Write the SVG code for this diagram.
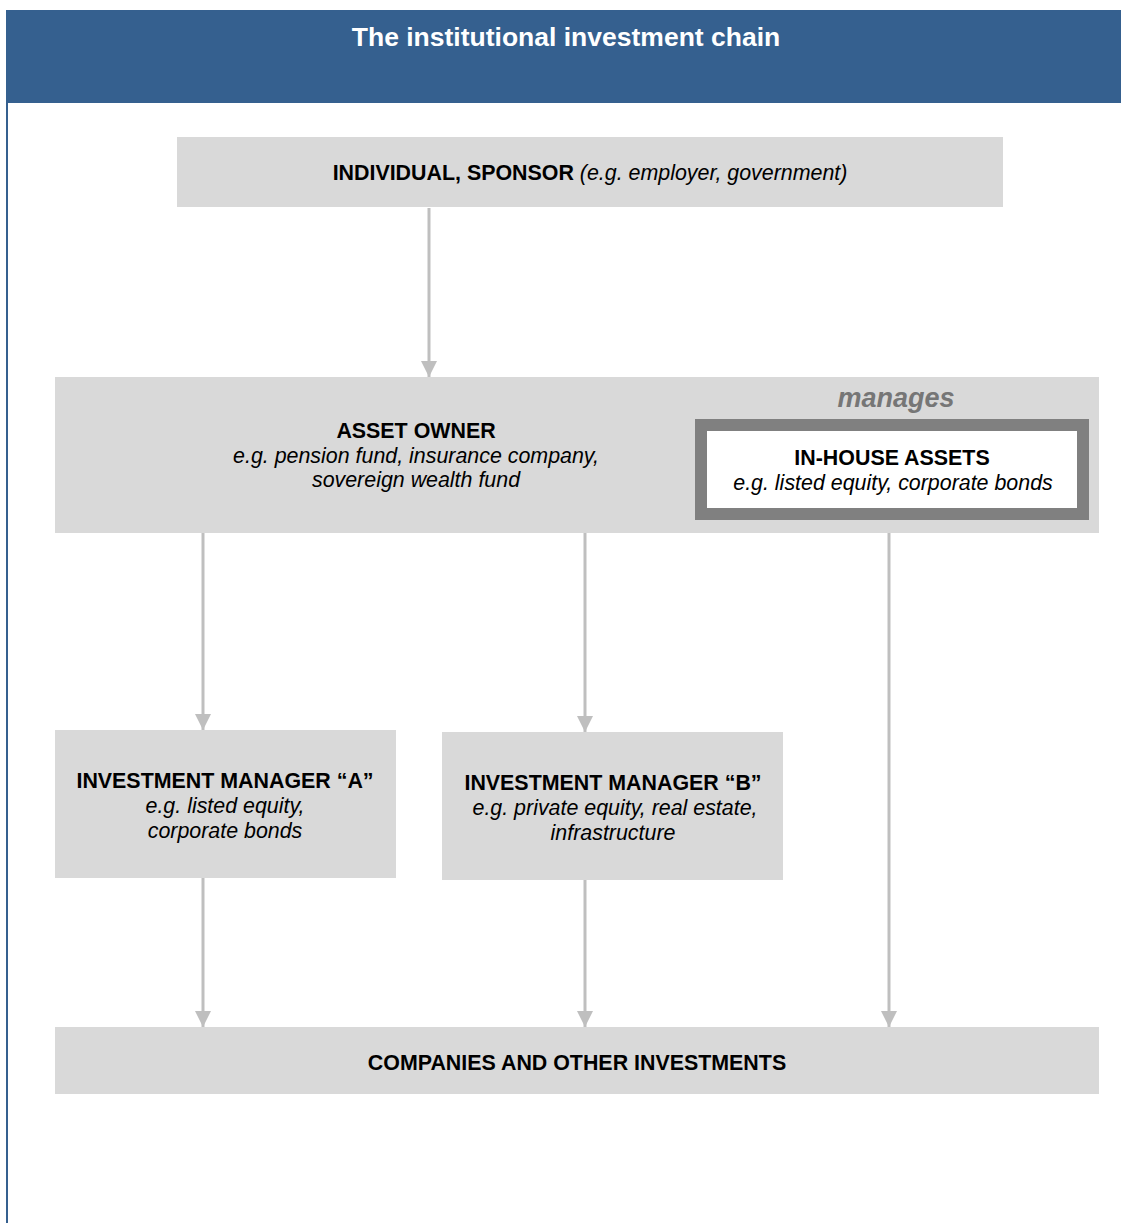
<svg xmlns="http://www.w3.org/2000/svg" width="1121" height="1223" viewBox="0 0 1121 1223">
  <style>
    .box { fill: #D9D9D9; }
    .t { font-family: "Liberation Sans", Arial, sans-serif; font-size: 21.4px; fill: #000; text-anchor: middle; }
    .b { font-weight: bold; }
    .i { font-style: italic; }
    .conn { stroke: #BFBFBF; stroke-width: 3; fill: none; marker-end: url(#arr); }
  </style>
  <defs>
    <marker id="arr" markerUnits="userSpaceOnUse" markerWidth="16" markerHeight="16" refX="16" refY="8" orient="auto">
      <path d="M0,0 L16,8 L0,16 Z" fill="#BFBFBF"/>
    </marker>
  </defs>
  <rect width="1121" height="1223" fill="#FFFFFF"/>
  <g id="frame">
    <rect x="6" y="10" width="1115" height="93" fill="#35608F"/>
    <rect x="6" y="10" width="2" height="1213" fill="#35608F"/>
    <text x="566" y="46" class="t b" style="font-size:26.5px; fill:#FFFFFF">The institutional investment chain</text>
  </g>
  <g id="connectors">
    <line x1="429" y1="208" x2="429" y2="377" class="conn"/>
    <line x1="203" y1="533" x2="203" y2="730" class="conn"/>
    <line x1="585" y1="533" x2="585" y2="732" class="conn"/>
    <line x1="889" y1="520" x2="889" y2="1027" class="conn"/>
    <line x1="203" y1="878" x2="203" y2="1027" class="conn"/>
    <line x1="585" y1="880" x2="585" y2="1027" class="conn"/>
  </g>
  <g id="individual">
    <rect x="177" y="137" width="826" height="70" class="box"/>
    <text x="590" y="180" class="t"><tspan class="b">INDIVIDUAL, SPONSOR</tspan> <tspan class="i">(e.g. employer, government)</tspan></text>
  </g>
  <g id="asset-owner">
    <rect x="55" y="377" width="1044" height="156" class="box"/>
    <text x="416" y="438" class="t b">ASSET OWNER</text>
    <text x="416" y="463" class="t i">e.g. pension fund, insurance company,</text>
    <text x="416" y="487" class="t i">sovereign wealth fund</text>
    <text x="896" y="407" class="t b i" style="font-size:27px; fill:#767676">manages</text>
  </g>
  <g id="in-house">
    <rect x="701" y="425" width="382" height="89" fill="#FFFFFF" stroke="#808080" stroke-width="12"/>
    <text x="892" y="465" class="t b">IN-HOUSE ASSETS</text>
    <text x="893" y="490" class="t i">e.g. listed equity, corporate bonds</text>
  </g>
  <g id="manager-a">
    <rect x="55" y="730" width="341" height="148" class="box"/>
    <text x="225" y="788" class="t b">INVESTMENT MANAGER “A”</text>
    <text x="225" y="813" class="t i">e.g. listed equity,</text>
    <text x="225" y="838" class="t i">corporate bonds</text>
  </g>
  <g id="manager-b">
    <rect x="442" y="732" width="341" height="148" class="box"/>
    <text x="613" y="790" class="t b">INVESTMENT MANAGER “B”</text>
    <text x="615" y="815" class="t i">e.g. private equity, real estate,</text>
    <text x="613" y="840" class="t i">infrastructure</text>
  </g>
  <g id="companies">
    <rect x="55" y="1027" width="1044" height="67" class="box"/>
    <text x="577" y="1070" class="t b">COMPANIES AND OTHER INVESTMENTS</text>
  </g>
</svg>
